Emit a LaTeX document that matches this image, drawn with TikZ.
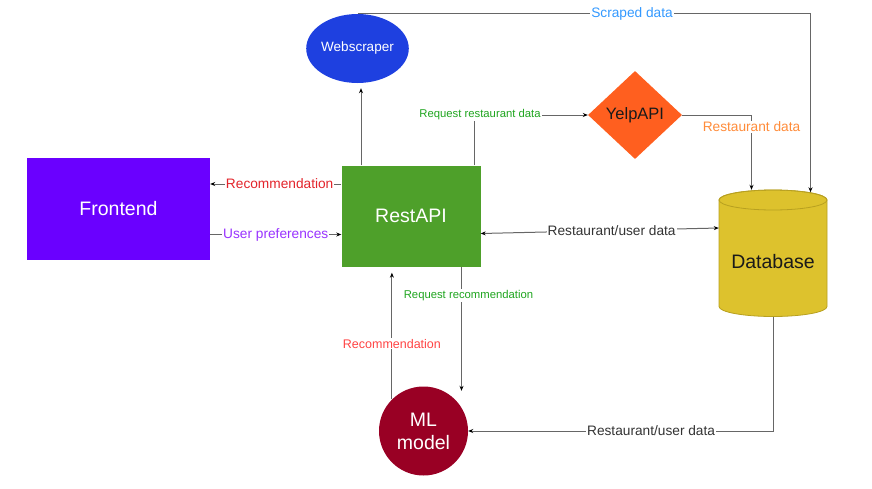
\documentclass[tikz,border=0pt]{standalone}
\usepackage{fontspec}
\setmainfont{Liberation Sans}
\usetikzlibrary{shapes.geometric,arrows.meta}
\definecolor{fecol}{HTML}{6A00FF}
\definecolor{apicol}{HTML}{4EA02A}
\definecolor{webcol}{HTML}{1E40E0}
\definecolor{yelpcol}{HTML}{FF5F1F}
\definecolor{mlcol}{HTML}{990024}
\definecolor{dbcol}{HTML}{DDC22D}
\definecolor{dbborder}{HTML}{B8A020}
\definecolor{linegray}{HTML}{666666}
\definecolor{textdark}{HTML}{1A1A1A}
\definecolor{greencol}{HTML}{1FA51F}
\definecolor{redcol}{HTML}{E3242B}
\definecolor{lightred}{HTML}{FF4444}
\definecolor{purplecol}{HTML}{9933FF}
\definecolor{bluecol}{HTML}{3399FF}
\definecolor{orangecol}{HTML}{FF8C3A}
\definecolor{darkcol}{HTML}{333333}
\begin{document}
\begin{tikzpicture}[x=1pt,y=-1pt,
  box/.style={rectangle, inner sep=0pt, text=white, font=\fontsize{19.5}{22}\selectfont},
  tipstyle/.style={},
  conn/.style={draw=linegray, line width=1pt, -{Stealth[length=5pt,width=4pt,color=black]}},
  lbl/.style={fill=white, inner sep=1pt, font=\fontsize{13.7}{15}\selectfont},
  slbl/.style={fill=white, inner sep=1pt, font=\fontsize{11.3}{13}\selectfont}]
\useasboundingbox (0,0) rectangle (872,488);

% nodes
\node[box, fill=fecol, minimum width=183pt, minimum height=102pt] (fe) at (118.5,209) {Frontend};
\node[box, fill=apicol, minimum width=139pt, minimum height=101pt] (api) at (411,216) {RestAPI};
\node[ellipse, inner sep=0pt, fill=webcol, minimum width=95pt, minimum height=69pt,
      text=white, font=\fontsize{13.5}{15}\selectfont] (web) at (357.5,48.5) {Webscraper};
\node[diamond, inner sep=0pt, fill=yelpcol, minimum width=94pt, minimum height=88pt,
      text=textdark, font=\fontsize{16.5}{18}\selectfont] (yelp) at (635,115) {YelpAPI};
\node[circle, inner sep=0pt, fill=mlcol, minimum size=89pt, text=white, align=center,
      font=\fontsize{19.5}{23}\selectfont] (ml) at (423.5,431) {ML\\model};

% database cylinder
\node[rectangle, inner sep=0pt, minimum width=108pt, minimum height=127pt] (db) at (773,253.5) {};
\path[fill=dbcol, draw=dbborder, line width=0.8pt] (719,200) -- (719,306.5)
  arc[start angle=180, end angle=0, x radius=54, y radius=10] -- (827,200)
  arc[start angle=0, end angle=-180, x radius=54, y radius=10] -- cycle;
\draw[draw=dbborder, line width=0.8pt] (773,200) ellipse [x radius=54, y radius=10];
\node[text=textdark, font=\fontsize{19.5}{22}\selectfont] (dbtext) at (773,262) {Database};

% helper coordinates
\coordinate (apiTL) at ([xshift=-50pt]api.north);
\coordinate (apiTR) at ([xshift=63.5pt]api.north);
\coordinate (apiBR) at ([xshift=50.5pt]api.south);
\coordinate (feR1) at ([yshift=25pt]fe.east);
\coordinate (feR2) at ([yshift=-25.5pt]fe.east);
\coordinate (apiR) at ([yshift=-17.5pt]api.east);
\coordinate (dbL) at ([yshift=25.5pt]db.west);
\coordinate (dbT1) at ([xshift=-21.5pt]db.north);
\coordinate (dbT2) at ([xshift=37.5pt]db.north);

% connectors
\draw[conn, shorten >=5pt] (apiTL) -- (apiTL |- web.south);
\draw[conn] (apiTR) |- (yelp.west)
  node[slbl, text=greencol, pos=0.5, xshift=5.5pt] {Request restaurant data};
\draw[conn] (yelp.east) -| (dbT1)
  node[lbl, text=orangecol, pos=0.58] {Restaurant data};
\draw[conn, shorten >=-2.5pt] (web.north) -| (dbT2)
  node[lbl, text=bluecol, pos=0.303] {Scraped data};
\draw[conn] (feR1 -| api.west) -- (feR1)
  node[lbl, text=redcol, pos=0.47] {Recommendation};
\draw[conn] (feR2) -- (feR2 -| api.west)
  node[lbl, text=purplecol, midway] {User preferences};
\draw[conn, {Stealth[length=5pt,width=4pt,color=black]}-{Stealth[length=5pt,width=4pt,color=black]}] (apiR) -- (dbL)
  node[lbl, text=darkcol, pos=0.55] {Restaurant/user data};
\draw[conn] (apiBR) -- (apiBR |- ml.64)
  node[slbl, text=greencol, pos=0.23, xshift=7pt] {Request recommendation};
\draw[conn, shorten >=6pt] (ml.135) -- (ml.135 |- api.south)
  node[fill=white, inner sep=1pt, font=\fontsize{12.5}{14}\selectfont, text=lightred, pos=0.42] {Recommendation};
\draw[conn] (db.south) |- (ml.east)
  node[lbl, text=darkcol, pos=0.7] {Restaurant/user data};
\end{tikzpicture}
\end{document}
